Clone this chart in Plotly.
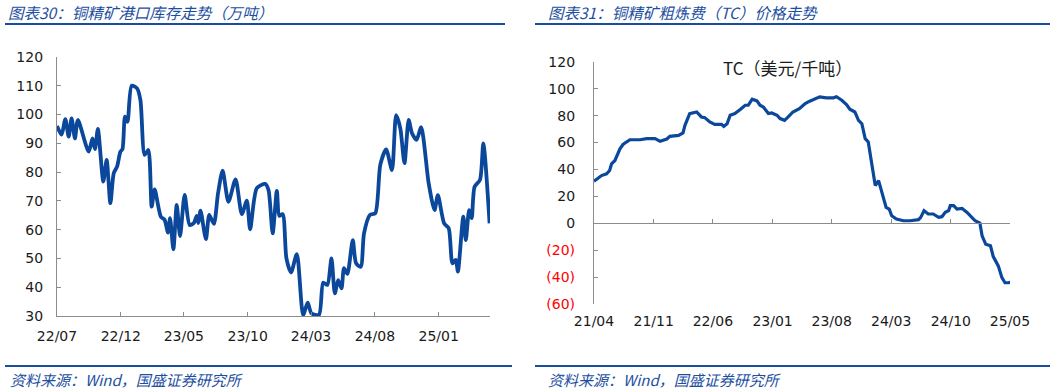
import plotly.graph_objects as go

# ---------------- data ----------------
inv_dates = ["2022-07-01","2022-07-12","2022-07-21","2022-07-29","2022-08-05","2022-08-13","2022-08-20",
             "2022-09-15","2022-09-24","2022-09-30","2022-10-07","2022-10-20","2022-10-28","2022-11-06",
             "2022-11-14","2022-11-22","2022-11-30","2022-12-05","2022-12-11","2022-12-17","2022-12-27",
             "2023-01-09","2023-01-17","2023-01-27","2023-02-05","2023-02-13","2023-02-20","2023-03-07",
             "2023-03-16","2023-03-24","2023-03-29","2023-04-06","2023-04-14","2023-04-22","2023-05-03",
             "2023-05-15","2023-05-25","2023-06-01","2023-06-05","2023-06-10","2023-06-23","2023-07-01",
             "2023-07-12","2023-07-22","2023-08-02","2023-08-16","2023-09-02","2023-09-17","2023-09-29",
             "2023-10-07","2023-10-23","2023-11-12","2023-11-20","2023-11-30","2023-12-10","2023-12-16",
             "2023-12-24","2024-01-02","2024-01-13","2024-01-27","2024-02-11","2024-02-22","2024-03-02",
             "2024-03-20","2024-03-30","2024-04-09","2024-04-19","2024-04-27","2024-05-05","2024-05-13",
             "2024-05-19","2024-05-27","2024-06-09","2024-06-17","2024-06-28","2024-07-06","2024-07-20",
             "2024-08-02","2024-08-14","2024-08-28","2024-09-11","2024-09-21","2024-10-01","2024-10-11",
             "2024-10-21","2024-10-29","2024-11-09","2024-11-20","2024-12-08","2024-12-22","2024-12-30",
             "2025-01-14","2025-01-25","2025-02-03","2025-02-11","2025-02-16","2025-03-01","2025-03-07",
             "2025-03-15","2025-03-21","2025-03-28","2025-04-10","2025-04-18","2025-05-03"]
inv_values = [96, 93, 98.4, 92.3, 98.7, 91.7, 98.1,
              87.1, 91.7, 88, 95, 76.7, 84.2, 69.2,
              79.6, 81.9, 87.1, 88, 99.3, 97.5, 110,
              109.1, 105, 86, 87.7, 68, 74, 64.5,
              63.4, 59, 64, 53.2, 68.6, 57.8, 72.1,
              61.6, 62.3, 64.8, 62.3, 66.6, 56.7, 65.1,
              62, 72.6, 80.5, 69.7, 77.5, 65.4, 70.1,
              60.1, 74.4, 75.9, 73.8, 58.7, 73.5, 64.8,
              65.4, 50, 45.1, 51.5, 30.4, 34.6, 30.9,
              30.4, 41.6, 40.8, 50, 37.9, 42.5, 39.6,
              46.6, 44.6, 56.4, 48.3, 47.1, 58.7, 65.1,
              65.7, 82.5, 87.9, 80.7, 99.8, 95.2, 83.1,
              98.1, 93.5, 91.2, 95.6, 76.1, 66.8, 72,
              62.2, 60.5, 48.3, 49.5, 45.4, 64.5, 56.4,
              66.8, 64, 74.9, 77.3, 90, 62.2]
inv_tick_dates = ["2022-07-01","2022-12-01","2023-05-01","2023-10-01","2024-03-01","2024-08-01","2025-01-01"]
inv_tick_labels = ["22/07","22/12","23/05","23/10","24/03","24/08","25/01"]

tc_dates = ["2021-04-01","2021-04-13","2021-04-28","2021-05-16","2021-05-27","2021-06-03","2021-06-15",
            "2021-07-03","2021-07-14","2021-07-26","2021-08-08","2021-09-13","2021-10-07","2021-11-06",
            "2021-11-24","2021-12-18","2021-12-29","2022-01-29","2022-02-14","2022-02-21","2022-03-10",
            "2022-04-04","2022-04-21","2022-05-03","2022-05-21","2022-06-08","2022-07-02","2022-07-10",
            "2022-07-22","2022-08-02","2022-08-19","2022-09-07","2022-09-25","2022-10-06","2022-10-20",
            "2022-11-06","2022-11-17","2022-11-29","2022-12-17","2022-12-29","2023-01-17","2023-01-28",
            "2023-02-13","2023-02-26","2023-03-15","2023-04-07","2023-04-28","2023-05-14","2023-06-02",
            "2023-06-19","2023-07-13","2023-08-07","2023-08-18","2023-09-06","2023-09-23","2023-10-05",
            "2023-10-23","2023-11-05","2023-11-17","2023-11-29","2023-12-10","2023-12-22","2024-01-04",
            "2024-01-16","2024-01-27","2024-02-12","2024-02-23","2024-03-03","2024-03-20","2024-04-14",
            "2024-05-08","2024-06-07","2024-06-15","2024-06-27","2024-07-12","2024-07-30","2024-08-18",
            "2024-08-30","2024-09-11","2024-09-23","2024-09-29","2024-10-11","2024-10-23","2024-11-10",
            "2024-11-28","2024-12-16","2024-12-27","2025-01-13","2025-01-21","2025-02-03","2025-02-20",
            "2025-03-02","2025-03-20","2025-04-02","2025-04-13","2025-04-25","2025-05-07"]
tc_values = [31.3, 33, 35.5, 36.8, 39.3, 44.3, 46.7,
             55.4, 58.6, 60.4, 62.1, 62.1, 62.9, 62.9,
             60.9, 62.6, 64.6, 65.3, 67.1, 72.8, 81.5,
             82.7, 79, 78.5, 75.3, 73.5, 73.5, 72,
             74, 80.3, 81.5, 84.5, 87.7, 87.7, 92.2,
             90.9, 87.7, 86.4, 81.5, 82, 80.3, 77.8,
             76.5, 79, 82.7, 85.2, 89, 90.7, 92.2,
             93.9, 93.2, 93.2, 94, 91.4, 88.2, 84.7,
             82.7, 76.5, 74, 62.9, 60.4, 43, 28.1,
             31.8, 23.1, 11.9, 10.7, 5.7, 3.3, 2,
             2, 2.8, 4.5, 9.5, 7, 7, 4.5,
             5, 8.2, 9.5, 13.2, 13.2, 10.7, 11.2,
             8.2, 4.5, 2, 0.3, -9.2, -15.4, -16.6,
             -24.6, -31.5, -40.2, -44, -44, -43.5]
tc_tick_dates = ["2021-04-01","2021-11-01","2022-06-01","2023-01-01","2023-08-01","2024-03-01","2024-10-01","2025-05-01"]
tc_tick_labels = ["21/04","21/11","22/06","23/01","23/08","24/03","24/10","25/05"]
tc_y_ticks = [-60, -40, -20, 0, 20, 40, 60, 80, 100, 120]
tc_y_labels = ['<span style="color:#ff0000">(60)</span>', '<span style="color:#ff0000">(40)</span>',
               '<span style="color:#ff0000">(20)</span>', "0", "20", "40", "60", "80", "100", "120"]

left_title = "图表30：铜精矿港口库存走势（万吨）"
right_title = "图表31：铜精矿粗炼费（TC）价格走势"
tc_label = "TC（美元/千吨）"
source_text = "资料来源：Wind，国盛证券研究所"

# ---------------- style ----------------
W, H = 1055, 392
LINE = "#0b489b"
BLUE = "#1d4f9f"
AXIS = "#8c8c8c"
TXT = "#1a1a1a"
FONT = "DejaVu Sans"
CJK = "Noto Sans CJK SC"


def px(x):
    return x / W


def py(y):
    return 1 - y / H


fig = go.Figure()
fig.add_trace(go.Scatter(x=inv_dates, y=inv_values, mode="lines", xaxis="x", yaxis="y",
                         line=dict(color=LINE, width=3.8, shape="spline", smoothing=0.7),
                         hoverinfo="skip", showlegend=False))
fig.add_trace(go.Scatter(x=tc_dates, y=tc_values, mode="lines", xaxis="x2", yaxis="y2",
                         line=dict(color=LINE, width=3.2), hoverinfo="skip", showlegend=False))
# invisible companion so the label axis (x3) is rendered
fig.add_trace(go.Scatter(x=tc_dates, y=tc_values, mode="lines", xaxis="x3", yaxis="y2",
                         line=dict(color="rgba(0,0,0,0)", width=0), hoverinfo="skip", showlegend=False))

tickfont = dict(family=FONT, size=14, color=TXT)

fig.update_layout(
    width=W, height=H, autosize=False,
    margin=dict(l=0, r=0, t=0, b=0, autoexpand=False),
    paper_bgcolor="white", plot_bgcolor="white",
    xaxis=dict(domain=[px(57), px(490)], anchor="y", type="date", automargin=False,
               range=["2022-07-01", "2025-05-04"],
               tickvals=inv_tick_dates, ticktext=inv_tick_labels,
               ticks="inside", ticklen=4, tickcolor=AXIS, tickwidth=1,
               showline=True, linecolor=AXIS, linewidth=1.2, showgrid=False, zeroline=False,
               tickfont=tickfont, ticklabelstandoff=7),
    yaxis=dict(domain=[py(316), py(57)], anchor="x", range=[30, 120], dtick=10, automargin=False,
               ticks="inside", ticklen=4, tickcolor=AXIS, tickwidth=1,
               showline=True, linecolor=AXIS, linewidth=1.2, showgrid=False, zeroline=False,
               tickfont=tickfont, ticklabelstandoff=10),
    xaxis2=dict(domain=[px(594), px(1010)], anchor="free", position=py(222.7), type="date",
                automargin=False, range=["2021-04-01", "2025-05-01"],
                tickvals=tc_tick_dates, showticklabels=False,
                ticks="inside", ticklen=4, tickcolor=AXIS, tickwidth=1,
                showline=True, linecolor=AXIS, linewidth=1.2, showgrid=False, zeroline=False),
    xaxis3=dict(overlaying="x2", anchor="y2", type="date", automargin=False,
                range=["2021-04-01", "2025-05-01"],
                tickvals=tc_tick_dates, ticktext=tc_tick_labels,
                ticks="", showline=False, showgrid=False, zeroline=False,
                tickfont=tickfont, ticklabelstandoff=7),
    yaxis2=dict(domain=[py(304.3), py(61.7)], anchor="x2", range=[-60, 120], automargin=False,
                tickvals=tc_y_ticks, ticktext=tc_y_labels,
                ticks="inside", ticklen=4, tickcolor=AXIS, tickwidth=1,
                showline=True, linecolor=AXIS, linewidth=1.2, showgrid=False, zeroline=False,
                tickfont=tickfont, ticklabelstandoff=15),
)

annotations = [
    dict(text="<i>" + left_title + "</i>", x=px(6), y=py(12), xanchor="left", yanchor="middle",
         font=dict(family=CJK, size=15.5, color=BLUE)),
    dict(text="<i>" + right_title + "</i>", x=px(546), y=py(12), xanchor="left", yanchor="middle",
         font=dict(family=CJK, size=15.5, color=BLUE)),
    dict(text=tc_label, x=px(787), y=py(67), xanchor="center", yanchor="middle",
         font=dict(family=CJK, size=17, color=TXT)),
    dict(text="<i>" + source_text + "</i>", x=px(8), y=py(379), xanchor="left", yanchor="middle",
         font=dict(family=CJK, size=15, color=BLUE)),
    dict(text="<i>" + source_text + "</i>", x=px(546), y=py(379), xanchor="left", yanchor="middle",
         font=dict(family=CJK, size=15, color=BLUE)),
]
for a in annotations:
    a.update(xref="paper", yref="paper", showarrow=False)
fig.update_layout(annotations=annotations)

shapes = []
for (x0, x1, y) in [(5, 505, 24), (535, 1050, 24), (5, 512, 366), (535, 1050, 366)]:
    shapes.append(dict(type="line", xref="paper", yref="paper", x0=px(x0), x1=px(x1),
                       y0=py(y), y1=py(y), line=dict(color="#1a4e9c", width=2.2)))
fig.update_layout(shapes=shapes)

fig.write_html("out.html", config={"displayModeBar": False},
               post_script="document.body.style.margin='0px';document.body.style.overflow='hidden';")
